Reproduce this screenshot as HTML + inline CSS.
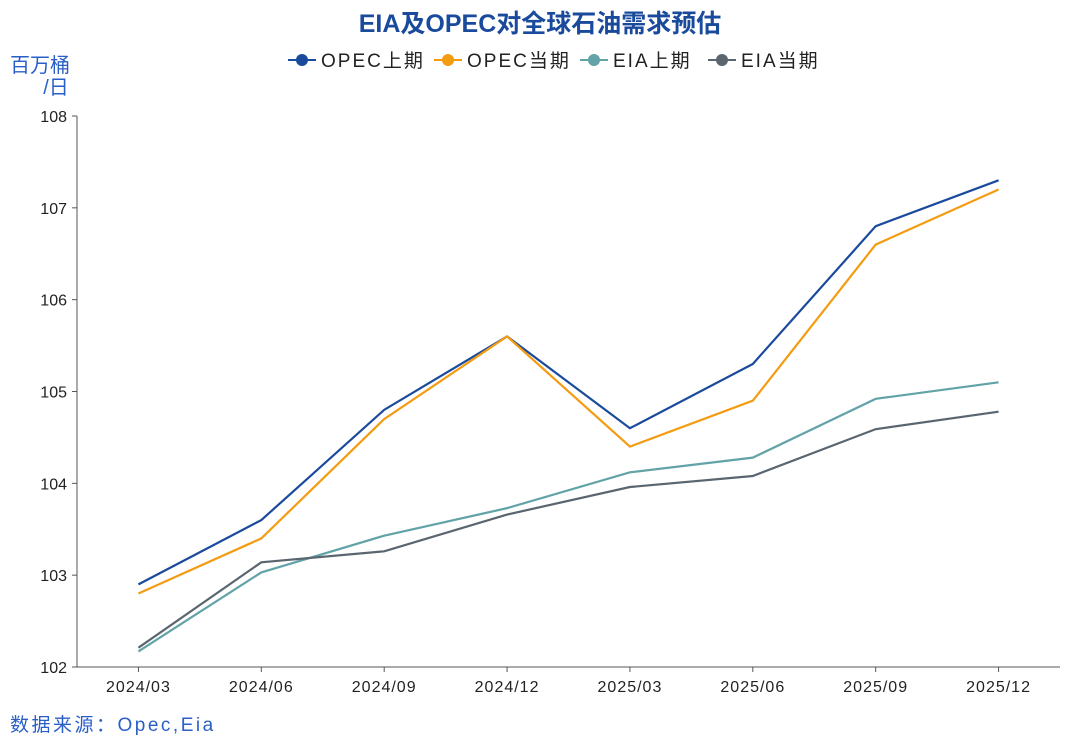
<!DOCTYPE html>
<html><head><meta charset="utf-8"><style>
body{margin:0;background:#fff;width:1080px;height:746px;overflow:hidden}
svg text{font-family:"Liberation Sans","Noto Sans CJK SC",sans-serif}
</style></head><body>
<svg id="c" width="1080" height="746">
<text x="540" y="32" text-anchor="middle" font-size="25" font-weight="bold" fill="#1a4a9c">EIA及OPEC对全球石油需求预估</text>
<text x="40" y="72" text-anchor="middle" font-size="20" fill="#2a5fc8">百万桶</text>
<text x="56" y="94" text-anchor="middle" font-size="20" fill="#2a5fc8">/日</text>
<text x="10" y="731" font-size="19" fill="#2a5fc8" letter-spacing="2.5">数据来源：Opec,Eia</text>
<g id="legend"></g><g id="axes"></g><g id="series"></g>
</svg>
<script>
const categories=["2024/03","2024/06","2024/09","2024/12","2025/03","2025/06","2025/09","2025/12"];
const yTicks=[102,103,104,105,106,107,108];
const seriesNames=["OPEC上期","OPEC当期","EIA上期","EIA当期"];
const opecPrev=[102.9,103.6,104.8,105.6,104.6,105.3,106.8,107.3];
const opecCur=[102.8,103.4,104.7,105.6,104.4,104.9,106.6,107.2];
const eiaPrev=[102.17,103.03,103.43,103.73,104.12,104.28,104.92,105.1];
const eiaCur=[102.21,103.14,103.26,103.66,103.96,104.08,104.59,104.78];
const colors=["#1a4a9c","#f39c12","#62a3a8","#5a6570"];
const NS="http://www.w3.org/2000/svg";
const L=77,R=1060,T=116,B=667;
const step=(R-L)/categories.length;
const x=i=>L+step*(i+0.5);
const y=v=>B-(v-102)/(108-102)*(B-T);
function mk(t,a,p){const e=document.createElementNS(NS,t);for(const k in a)e.setAttribute(k,a[k]);p.appendChild(e);return e;}
const ax=document.getElementById('axes');
const yl=mk('line',{x1:L,y1:T,x2:L,y2:B,stroke:'#555','stroke-width':1},ax);


const xl=mk('line',{x1:L,y1:B,x2:R,y2:B,stroke:'#555','stroke-width':1},ax);


yTicks.forEach(v=>{
 mk('line',{x1:L-5,y1:y(v),x2:L,y2:y(v),stroke:'#555'},ax);
 const t=mk('text',{x:L-10,y:y(v)+6,'text-anchor':'end','font-size':16,fill:'#222'},ax);t.textContent=v;
 
 
});
categories.forEach((c,i)=>{
 mk('line',{x1:x(i),y1:B,x2:x(i),y2:B+5,stroke:'#555'},ax);
 const t=mk('text',{x:x(i),y:B+25,'text-anchor':'middle','font-size':16,fill:'#222','letter-spacing':'1'},ax);t.textContent=c;
 
 
});
const sg=document.getElementById('series');
[opecPrev,opecCur,eiaPrev,eiaCur].forEach((d,s)=>{
 const p=mk('polyline',{points:d.map((v,i)=>x(i)+','+y(v)).join(' '),fill:'none',stroke:colors[s],'stroke-width':2.2},sg);
 
 
});
const lg=document.getElementById('legend');
let lx=288;
seriesNames.forEach((n,s)=>{
 const g=mk('g',{},lg);
 
 
 mk('line',{x1:lx,y1:60,x2:lx+28,y2:60,stroke:colors[s],'stroke-width':2},g);
 mk('circle',{cx:lx+14,cy:60,r:6,fill:colors[s]},g);
 const t=mk('text',{x:lx+33,y:67,'font-size':19,fill:'#222','letter-spacing':'2'},g);t.textContent=n;
 lx+=33+(n.startsWith('OPEC')?113:95);
});
</script>
</body></html>
